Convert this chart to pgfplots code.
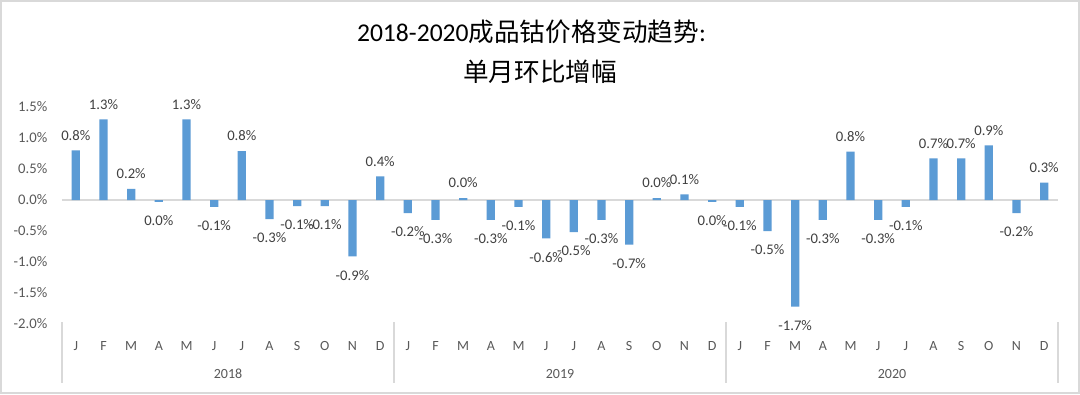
\documentclass[border=0pt]{standalone}
\usepackage{pgfplots}
\pgfplotsset{compat=1.18}
\usepackage{fontspec}
\setmainfont{Carlito}
\newfontfamily\cjk{Noto Sans CJK SC}
\definecolor{barblue}{HTML}{5B9BD5}
\definecolor{labgray}{HTML}{404040}
\definecolor{tickgray}{HTML}{595959}
\definecolor{linegray}{HTML}{D9D9D9}
\begin{document}
\begin{tikzpicture}
\path[use as bounding box] (0,0) rectangle (810pt,295.5pt);
\fill[white] (0,0) rectangle (810pt,295.5pt);
\begin{axis}[
  at={(46.5pt,52.5pt)}, anchor=south west,
  width=747pt, height=162.75pt, scale only axis,
  xmin=0, xmax=36, ymin=-2, ymax=1.5,
  ybar, bar width=0.3,
  clip=false,
  axis line style={draw=none},
  major tick length=0pt,
  xtick=data,
  xticklabels={J,F,M,A,M,J,J,A,S,O,N,D,J,F,M,A,M,J,J,A,S,O,N,D,J,F,M,A,M,J,J,A,S,O,N,D},
  xticklabel style={anchor=center, yshift=-16.5pt, font=\fontsize{10.5pt}{12pt}\selectfont, text=tickgray},
  ytick={-2,-1.5,...,1.5},
  yticklabel={\pgfmathprintnumber[fixed,fixed zerofill,precision=1]{\tick}\%},
  yticklabel style={xshift=-7.5pt, font=\fontsize{11pt}{13pt}\selectfont, text=tickgray},
  /pgf/number format/assume math mode=true,
  point meta=explicit symbolic,
  visualization depends on={rawy \as \rawy},
  nodes near coords,
  every node near coord/.append style={font=\fontsize{11pt}{13pt}\selectfont, text=labgray, inner ysep=8.5pt, inner xsep=0pt},
  every node near coord/.append code={\ifdim\rawy pt<0pt\relax\pgfkeysalso{/tikz/anchor=north,/tikz/yshift=-1.5pt}\else\pgfkeysalso{/tikz/anchor=south,/tikz/yshift=-1pt}\fi},
]
\draw[linegray, line width=1.1pt] (axis cs:0,0) -- (axis cs:36,0);
\addplot[fill=barblue, draw=none] coordinates {
 (0.5,0.8) [0.8\%]
 (1.5,1.3) [1.3\%]
 (2.5,0.18) [0.2\%]
 (3.5,-0.03) [0.0\%]
 (4.5,1.3) [1.3\%]
 (5.5,-0.11) [-0.1\%]
 (6.5,0.79) [0.8\%]
 (7.5,-0.31) [-0.3\%]
 (8.5,-0.1) [-0.1\%]
 (9.5,-0.1) [-0.1\%]
 (10.5,-0.91) [-0.9\%]
 (11.5,0.38) [0.4\%]
 (12.5,-0.21) [-0.2\%]
 (13.5,-0.32) [-0.3\%]
 (14.5,0.03) [0.0\%]
 (15.5,-0.32) [-0.3\%]
 (16.5,-0.11) [-0.1\%]
 (17.5,-0.62) [-0.6\%]
 (18.5,-0.52) [-0.5\%]
 (19.5,-0.32) [-0.3\%]
 (20.5,-0.72) [-0.7\%]
 (21.5,0.03) [0.0\%]
 (22.5,0.09) [0.1\%]
 (23.5,-0.03) [0.0\%]
 (24.5,-0.11) [-0.1\%]
 (25.5,-0.5) [-0.5\%]
 (26.5,-1.72) [-1.7\%]
 (27.5,-0.32) [-0.3\%]
 (28.5,0.78) [0.8\%]
 (29.5,-0.32) [-0.3\%]
 (30.5,-0.11) [-0.1\%]
 (31.5,0.67) [0.7\%]
 (32.5,0.67) [0.7\%]
 (33.5,0.88) [0.9\%]
 (34.5,-0.21) [-0.2\%]
 (35.5,0.28) [0.3\%]
};
\draw[linegray, line width=0.8pt] ([yshift=1.5pt]axis cs:0,-2) -- ([yshift=-44.25pt]axis cs:0,-2);
\draw[linegray, line width=0.8pt] ([yshift=1.5pt]axis cs:12,-2) -- ([yshift=-44.25pt]axis cs:12,-2);
\draw[linegray, line width=0.8pt] ([yshift=1.5pt]axis cs:24,-2) -- ([yshift=-44.25pt]axis cs:24,-2);
\draw[linegray, line width=0.8pt] ([yshift=1.5pt]axis cs:36,-2) -- ([yshift=-44.25pt]axis cs:36,-2);
\node[font=\fontsize{10.5pt}{12pt}\selectfont, text=tickgray] at ([yshift=-37.5pt]axis cs:6,-2) {2018};
\node[font=\fontsize{10.5pt}{12pt}\selectfont, text=tickgray] at ([yshift=-37.5pt]axis cs:18,-2) {2019};
\node[font=\fontsize{10.5pt}{12pt}\selectfont, text=tickgray] at ([yshift=-37.5pt]axis cs:30,-2) {2020};
\end{axis}
\node[font=\fontsize{19.2pt}{22pt}\selectfont, text=black] at (398.6pt,271.5pt) {2018-2020{\cjk 成品钴价格变动趋势}:};
\node[font=\fontsize{19.2pt}{22pt}\selectfont, text=black] at (405pt,241.5pt) {\cjk 单月环比增幅};
\draw[linegray, line width=1.5pt] (0.75pt,0.75pt) rectangle (809.25pt,294.75pt);
\end{tikzpicture}
\end{document}
